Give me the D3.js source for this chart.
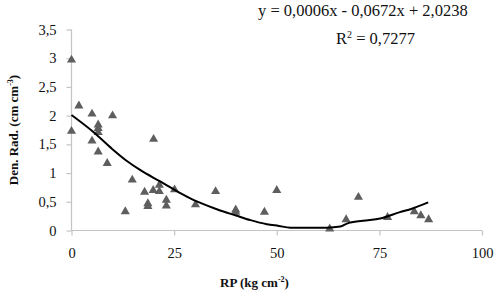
<!DOCTYPE html>
<html><head><meta charset="utf-8">
<script src="https://cdn.jsdelivr.net/npm/d3@7"></script>
<style>body{margin:0;background:#fff}svg{display:block}svg text{font-family:"Liberation Serif","Times New Roman",serif}</style>
</head><body>
<svg id="c" width="496" height="296"></svg>
<script>
const rpValues  = [0, 0, 1.8, 5, 5, 6.5, 6.5, 6.5, 6.5, 8.7, 10, 13.1, 14.8, 17.8, 18.6, 18.6, 19.9, 20, 21.4, 21.4, 23.1, 23.1, 25.1, 30.2, 35.1, 40, 40, 47, 50, 62.9, 66.9, 69.9, 77, 83.5, 85.1, 87];
const denValues = [2.97, 1.73, 2.17, 2.03, 1.56, 1.84, 1.78, 1.71, 1.37, 1.17, 2.0, 0.33, 0.88, 0.67, 0.47, 0.42, 0.70, 1.59, 0.79, 0.68, 0.53, 0.43, 0.71, 0.45, 0.68, 0.36, 0.32, 0.32, 0.70, 0.03, 0.19, 0.58, 0.23, 0.33, 0.26, 0.19];
const trendX = [0, 5.4, 9.9, 13.5, 16.8, 21.7, 24.1, 26.5, 29.8, 31.4, 35.4, 40.1, 43.6, 47.6, 50.5, 53.3, 60.6, 62.2, 65.5, 67.1, 71, 75.2, 80, 82.9, 86.9];
const trendY = [2.01, 1.71, 1.42, 1.21, 1.05, 0.85, 0.75, 0.65, 0.53, 0.48, 0.37, 0.26, 0.18, 0.11, 0.08, 0.05, 0.05, 0.05, 0.07, 0.12, 0.17, 0.21, 0.32, 0.38, 0.49];
const xTicks = [0, 25, 50, 75, 100];
const yTicks = [0, 0.5, 1, 1.5, 2, 2.5, 3, 3.5];
const equationText = "y = 0,0006x - 0,0672x + 2,0238";
const r2Value = "0,7277";
const xTitle = "RP (kg cm";
const yTitle = "Den. Rad. (cm cm";

const svg = d3.select("#c");
const x = d3.scaleLinear().domain([0, 100]).range([71.5, 482]);
const y = d3.scaleLinear().domain([0, 3.5]).range([230.5, 29.5]);
const loc = d3.formatLocale({decimal: ",", thousands: ".", grouping: [3], currency: ["", ""]});
const fmt = v => loc.format("~g")(v);
const serif = "Liberation Serif, Times New Roman, serif";

// axes
const gx = svg.append("g").attr("transform", `translate(0,${y(0)})`)
  .call(d3.axisBottom(x).tickValues(xTicks).tickSize(5).tickPadding(12).tickFormat(fmt));
const gy = svg.append("g").attr("transform", `translate(${x(0)},0)`)
  .call(d3.axisLeft(y).tickValues(yTicks).tickSize(5).tickPadding(10).tickFormat(fmt));
[gx, gy].forEach(g => {
  g.attr("font-family", serif);
  g.select(".domain").attr("stroke", "#c4c4c4").attr("stroke-width", 1.2);
  g.selectAll(".tick line").attr("stroke", "#c4c4c4").attr("stroke-width", 1.2);
  g.selectAll(".tick text").attr("fill", "#111").attr("font-family", serif).style("font-size", "14.5px");
});
gx.select(".domain").attr("d", `M${x(0)},0H${x(100)}`);
gy.select(".domain").attr("d", `M0,${y(3.5)}V${y(0)}`);
gx.selectAll(".tick text").attr("dy", "0.71em");

// markers
const tri = d3.symbol().type(d3.symbolTriangle).size(36);
svg.append("g").selectAll("path").data(rpValues.map((v, i) => [v, denValues[i]]))
  .join("path").attr("d", tri)
  .attr("transform", d => `translate(${x(d[0])},${y(d[1])})`)
  .attr("fill", "#5e5e5e");

// trend line
const line = d3.line().x(d => x(d[0])).y(d => y(d[1])).curve(d3.curveMonotoneX);
svg.append("path").datum(trendX.map((v, i) => [v, trendY[i]]))
  .attr("d", line).attr("fill", "none").attr("stroke", "#000").attr("stroke-width", 2);

// equation
svg.append("text").attr("x", 258).attr("y", 16).attr("fill", "#111")
  .attr("font-family", serif).style("font-size", "16.5px").text(equationText);
const r2 = svg.append("text").attr("x", 336).attr("y", 44).attr("fill", "#111")
  .attr("font-family", serif).style("font-size", "16.5px");
r2.append("tspan").text("R");
r2.append("tspan").attr("dy", -6).style("font-size", "10px").text("2");
r2.append("tspan").attr("dy", 6).text(" = " + r2Value);

// axis titles
const xt = svg.append("text").attr("x", 254.5).attr("y", 287).attr("text-anchor", "middle")
  .attr("fill", "#111").attr("font-family", serif).style("font-size", "13px").style("font-weight", "bold");
xt.append("tspan").text(xTitle);
xt.append("tspan").attr("dy", -5).style("font-size", "8px").text("-2");
xt.append("tspan").attr("dy", 5).text(")");

const yt = svg.append("text").attr("transform", "translate(18,130) rotate(-90)").attr("text-anchor", "middle")
  .attr("fill", "#111").attr("font-family", serif).style("font-size", "13px").style("font-weight", "bold");
yt.append("tspan").text(yTitle);
yt.append("tspan").attr("dy", -5).style("font-size", "8px").text("-3");
yt.append("tspan").attr("dy", 5).text(")");
</script>
</body></html>
